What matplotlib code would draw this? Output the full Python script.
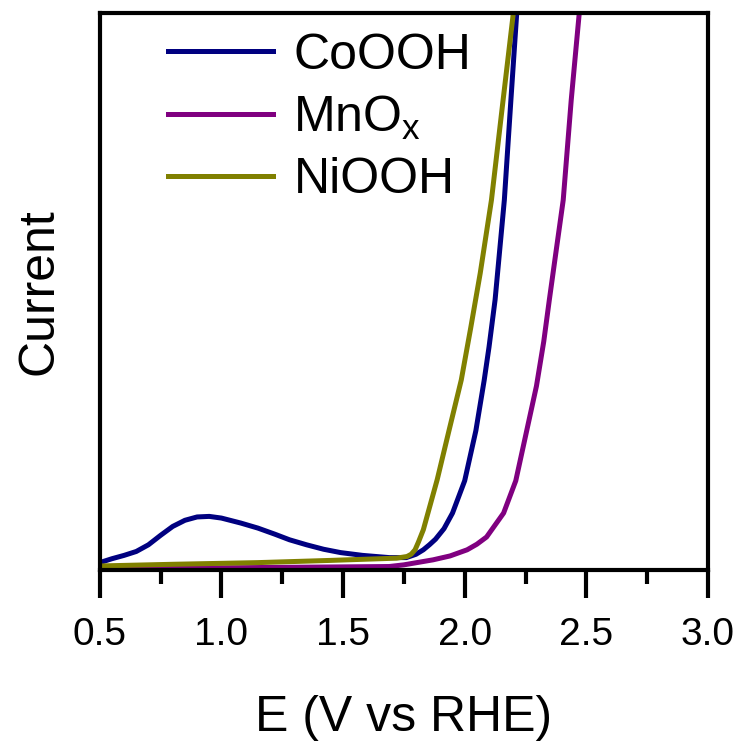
import matplotlib.pyplot as plt
from matplotlib.ticker import MultipleLocator

plt.rcParams['font.family'] = ['Liberation Sans', 'DejaVu Sans']

# potential (V vs RHE) and current (arb. units) for each catalyst
e_co = [0.50, 0.55, 0.60, 0.65, 0.70, 0.75, 0.80, 0.85, 0.90, 0.95, 1.00, 1.08, 1.15,
        1.22, 1.28, 1.35, 1.42, 1.49, 1.58, 1.69, 1.76, 1.80, 1.83, 1.855, 1.88, 1.915,
        1.95, 2.00, 2.046, 2.08, 2.10, 2.125, 2.163, 2.19, 2.214, 2.224]
i_co = [1.3, 2.0, 2.6, 3.3, 4.5, 6.2, 7.8, 8.9, 9.5, 9.6, 9.3, 8.4, 7.5,
        6.4, 5.4, 4.5, 3.7, 3.1, 2.6, 2.2, 2.2, 2.8, 3.6, 4.5, 5.5, 7.4,
        10.2, 16.0, 25.0, 34.0, 40.0, 48.5, 66.4, 84.4, 100.0, 105.0]

e_mn = [0.50, 0.60, 0.80, 1.10, 1.40, 1.69, 1.75, 1.87, 1.94, 2.01, 2.05, 2.09, 2.16,
        2.21, 2.26, 2.295, 2.325, 2.348, 2.375, 2.405, 2.438, 2.471, 2.48]
i_mn = [0.0, 0.1, 0.3, 0.4, 0.5, 0.6, 0.9, 1.8, 2.5, 3.6, 4.6, 5.9, 10.2,
        16.0, 26.0, 33.0, 41.0, 48.5, 57.0, 66.4, 84.4, 100.0, 105.0]

e_ni = [0.50, 0.80, 1.15, 1.45, 1.72, 1.763, 1.78, 1.796, 1.81, 1.83, 1.887, 1.936,
        1.986, 2.025, 2.064, 2.11, 2.158, 2.20, 2.21]
i_ni = [0.7, 1.0, 1.3, 1.7, 2.1, 2.4, 2.8, 3.6, 5.0, 7.2, 16.2, 25.1,
        34.1, 43.5, 53.3, 66.4, 84.4, 100.0, 104.0]

fig = plt.figure(figsize=(7.39, 7.42), dpi=100)
ax = fig.add_axes([0.135, 0.232, 0.823, 0.7505])

ax.plot(e_co, i_co, color='#000080', lw=3.6, label='CoOOH')
ax.plot(e_mn, i_mn, color='#800080', lw=3.6, label='MnO$_\\mathregular{x}$')
ax.plot(e_ni, i_ni, color='#808000', lw=3.6, label='NiOOH')

ax.set_xlim(0.5, 3.0)
ax.set_ylim(0, 100)
ax.xaxis.set_major_locator(MultipleLocator(0.5))
ax.xaxis.set_minor_locator(MultipleLocator(0.25))
ax.set_xticks([0.5, 1.0, 1.5, 2.0, 2.5, 3.0])
ax.set_xticklabels(['0.5', '1.0', '1.5', '2.0', '2.5', '3.0'])
ax.set_yticks([])
ax.tick_params(axis='x', which='major', direction='out', length=20, width=3,
               labelsize=28, pad=14)
ax.tick_params(axis='x', which='minor', direction='out', length=10, width=3)
for s in ax.spines.values():
    s.set_linewidth(3)

ax.set_xlabel('E (V vs RHE)', fontsize=36, labelpad=30)
ax.set_ylabel('Current', fontsize=36, labelpad=27)

ax.legend(loc='upper left', frameon=False, fontsize=36, handlelength=2.1,
          handletextpad=0.4, labelspacing=0.3, borderaxespad=0.0,
          bbox_to_anchor=(0.08, 1.0))

fig.savefig('out.png', dpi=100)
